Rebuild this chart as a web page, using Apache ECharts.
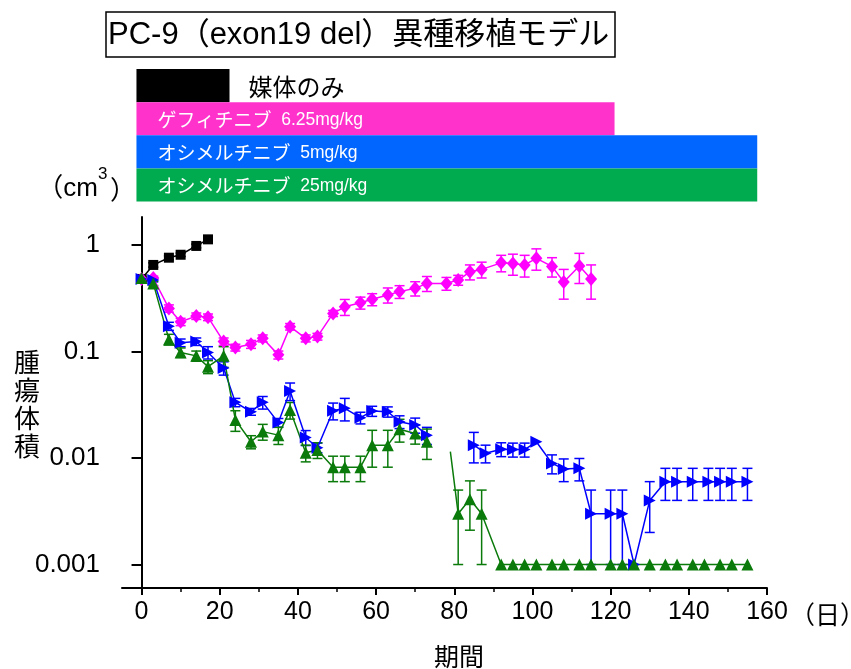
<!DOCTYPE html>
<html><head><meta charset="utf-8">
<script src="https://cdn.jsdelivr.net/npm/echarts@6/dist/echarts.min.js"></script>
<style>html,body{margin:0;padding:0;background:#fff}#c{width:851px;height:669px}</style>
</head><body><div id="c"></div>
<script>
// ---- data ----
const vehicleDays = [0,3,7,10,14,17];
const vehicleVals = [0.48,0.65,0.76,0.81,0.98,1.13];
const vehicleErr  = [0.02,0.03,0.03,0.03,0.04,0.05];

const gefDays = [0,3,7,10,14,17,21,24,28,31,35,38,42,45,49,52,56,59,63,66,70,73,78,81,84,87,92,95,98,101,105,108,112,115];
const gefVals = [0.48,0.49,0.254,0.19,0.215,0.21,0.124,0.109,0.117,0.133,0.093,0.171,0.133,0.138,0.228,0.263,0.287,0.309,0.34,0.365,0.392,0.436,0.436,0.469,0.56,0.59,0.68,0.67,0.65,0.75,0.63,0.45,0.635,0.48];
const gefErr  = [0.02,0.02,0.02,0.015,0.015,0.015,0.01,0.008,0.01,0.01,0.008,0.012,0.01,0.01,0.015,0.045,0.037,0.04,0.055,0.05,0.06,0.07,0.06,0.05,0.09,0.1,0.12,0.15,0.15,0.17,0.13,0.14,0.2,0.17];

const osi5Days = [0,3,7,10,14,17,21,24,28,31,35,38,42,45,49,52,56,59,63,66,70,73,null,85,88,92,95,98,101,105,108,112,115,120,123,126,130,134,137,141,145,148,151,155];
const osi5Vals = [0.48,0.47,0.173,0.121,0.124,0.098,0.07,0.0333,0.0272,0.0333,0.0215,0.0426,0.0156,0.0125,0.0278,0.0293,0.0239,0.0276,0.0272,0.0219,0.0204,0.0164,null,0.0132,0.0111,0.0121,0.012,0.012,0.0142,0.0089,0.0079,0.008,0.003,0.003,0.003,0.001,0.004,0.006,0.006,0.006,0.006,0.006,0.006,0.006];
const osi5Err  = [0.02,0.02,0.015,0.01,0.01,0.013,0.01,0.003,0.002,0.0045,0.002,0.008,0.0025,0.0013,0.005,0.007,0.003,0.003,0.003,0.003,0.0033,0.003,null,0.0042,0.0021,0.0018,0.0018,0.0018,0,0.0018,0.0019,0.0019,0.002,0.002,0.002,0,0.002,0.002,0.002,0.002,0.002,0.002,0.002,0.002];

const osi25Days = [0,3,7,10,14,17,21,24,28,31,35,38,42,45,49,52,56,59,63,66,70,73,null,79,81,84,87,92,95,98,101,105,108,112,115,120,123,126,130,134,137,141,144,148,151,155];
const osi25Vals = [0.49,0.436,0.13,0.098,0.091,0.072,0.091,0.0228,0.0142,0.0177,0.0164,0.0282,0.0112,0.0119,0.0082,0.0082,0.0082,0.0132,0.0132,0.0186,0.017,0.0142,null,0.0115,0.003,0.0041,0.003,0.001,0.001,0.001,0.001,0.001,0.001,0.001,0.001,0.001,0.001,0.001,0.001,0.001,0.001,0.001,0.001,0.001,0.001,0.001];
const osi25Err  = [0.02,0.02,0.015,0.01,0.01,0.01,0.02,0.005,0.002,0.003,0.003,0.005,0.002,0.002,0.0022,0.0022,0.0022,0.005,0.005,0.0045,0.0035,0.0045,null,0,0.002,0.002,0.002,0,0,0,0,0,0,0,0,0,0,0,0,0,0,0,0,0,0,0];
const osi25UnmarkedDay = 79;

const treatNames = ['媒体のみ','ゲフィチニブ','オシメルチニブ','オシメルチニブ'];
const treatDoses = ['','6.25mg/kg','5mg/kg','25mg/kg'];
const treatStart = [-1.3,-1.3,-1.3,-1.3];
const treatEnd   = [22.5,121,157.5,157.5];

const yTickValues = [0.001,0.01,0.1,1];
const yTickLabels = ['0.001','0.01','0.1','1'];
const xTickValues = [0,20,40,60,80,100,120,140,160];
const xMinorTickValues = [10,30,50,70,90,110,130,150];

const titleText = 'PC-9（exon19 del）異種移植モデル';
const xName = '期間';
const xUnit = '（日）';
const yName = '腫瘍体積';

// ---- build ----
const FONT = "'Liberation Sans','Noto Sans CJK JP',sans-serif";
const C = {veh:'#000000', gef:'#ff00ff', o5:'#0000ff', o25:'#0a7a0a'};
const treatColors = ['#000000','#ff33cc','#0066ff','#00aa4f'];

function pts(days, vals, unmarked){
  return days.map((d,i)=>{
    if (d == null) return ['-','-'];
    if (unmarked != null && d === unmarked) return {value:[d, vals[i]], symbol:'none'};
    return [d, vals[i]];
  });
}
function errs(days, vals, err){
  const out = [];
  days.forEach((d,i)=>{ if (d != null && err[i]) out.push([d, vals[i], err[i]]); });
  return out;
}
function errRender(color){
  return function(params, api){
    const x = api.value(0), v = api.value(1), e = api.value(2);
    const lo = Math.max(v - e, 1e-6), hi = v + e;
    const pl = api.coord([x, lo]), ph = api.coord([x, hi]);
    const hw = 5;
    const st = {stroke: color, lineWidth: 1.5, fill: null};
    return {type:'group', children:[
      {type:'line', shape:{x1:pl[0],y1:pl[1],x2:ph[0],y2:ph[1]}, style:st},
      {type:'line', shape:{x1:ph[0]-hw,y1:ph[1],x2:ph[0]+hw,y2:ph[1]}, style:st},
      {type:'line', shape:{x1:pl[0]-hw,y1:pl[1],x2:pl[0]+hw,y2:pl[1]}, style:st}
    ]};
  };
}
function errSeries(days, vals, err, color){
  return {type:'custom', xAxisIndex:0, yAxisIndex:0, data: errs(days, vals, err),
    encode:{x:0, y:1}, renderItem: errRender(color), clip:true, z:1, silent:true};
}
function lineSeries(name, days, vals, color, symbol, size, rot, unmarked){
  return {type:'line', name, xAxisIndex:0, yAxisIndex:0, data: pts(days, vals, unmarked),
    symbol, symbolSize:size, symbolRotate:rot||0, showAllSymbol:true, connectNulls:false,
    lineStyle:{color, width:1.5}, itemStyle:{color, opacity:1}, z:3};
}

const treatData = treatNames.map((n,i)=>[treatStart[i], i, treatEnd[i]]);

const option = {
  animation:false,
  backgroundColor:'#fff',
  grid:[
    {left:122, right:84, top:217, bottom:81},
    {left:122, right:84, top:69, height:132.5}
  ],
  xAxis:[
    {type:'value', gridIndex:0, min:-5, max:160,
     axisLine:{show:true, onZero:false, lineStyle:{color:'#000', width:2}},
     axisTick:{show:true, customValues:xTickValues, length:7, lineStyle:{color:'#000', width:2}},
     axisLabel:{customValues:xTickValues, color:'#000', fontSize:25, fontFamily:FONT, margin:12},
     splitLine:{show:false}},
    {type:'value', gridIndex:0, min:-5, max:160, position:'bottom',
     axisLine:{show:false},
     axisTick:{show:true, customValues:xMinorTickValues, length:4, lineStyle:{color:'#000', width:1.5}},
     axisLabel:{show:false}, splitLine:{show:false}},
    {type:'value', gridIndex:1, min:-5, max:160, show:false}
  ],
  yAxis:[
    {type:'log', logBase:10, gridIndex:0, min:0.000602, max:1.832,
     axisLine:{show:true, lineStyle:{color:'#000', width:2}},
     axisTick:{show:true, customValues:yTickValues, length:10, lineStyle:{color:'#000', width:2}},
     axisLabel:{customValues:yTickValues, color:'#000', fontSize:26, fontFamily:FONT, margin:22,
       formatter:(v)=>{ const k = yTickValues.findIndex(t=>Math.abs(Math.log10(t)-Math.log10(v))<1e-6); return k>=0?yTickLabels[k]:''; }},
     splitLine:{show:false}, minorTick:{show:false}},
    {type:'category', gridIndex:1, data:treatNames.map((n,i)=>String(i)), inverse:true, show:false}
  ],
  series:[
    {type:'custom', xAxisIndex:2, yAxisIndex:1, data:treatData, encode:{x:[0,2], y:1}, silent:true,
     renderItem:(params, api)=>{
       const i = params.dataIndex;
       const s = api.coord([api.value(0), api.value(1)]);
       const e = api.coord([api.value(2), api.value(1)]);
       const h = api.size([0,1])[1];
       const kids = [{type:'rect', shape:{x:s[0], y:s[1]-h/2, width:e[0]-s[0], height:h}, style:{fill:treatColors[i]}}];
       if (i === 0) {
         kids.push({type:'text', x:e[0]+19, y:s[1]+1, style:{text:treatNames[i], fill:'#000', font:"24px 'Noto Sans CJK JP'", verticalAlign:'middle', align:'left'}});
       } else {
         kids.push({type:'text', x:s[0]+21, y:s[1]+1, style:{
           text:'{a|'+treatNames[i]+'}{b|  '+treatDoses[i]+'}', verticalAlign:'middle', align:'left', fill:'#fff',
           rich:{a:{fontSize:19, fontFamily:'Noto Sans CJK JP', fill:'#fff', color:'#fff'},
                 b:{fontSize:17.5, fontFamily:'Liberation Sans', fill:'#fff', color:'#fff'}}}});
       }
       return {type:'group', children:kids};
     }},
    errSeries(vehicleDays, vehicleVals, vehicleErr, C.veh),
    errSeries(gefDays, gefVals, gefErr, C.gef),
    errSeries(osi5Days, osi5Vals, osi5Err, C.o5),
    errSeries(osi25Days, osi25Vals, osi25Err, C.o25),
    lineSeries('媒体のみ', vehicleDays, vehicleVals, C.veh, 'rect', 10),
    lineSeries('ゲフィチニブ', gefDays, gefVals, C.gef, 'diamond', [12,14]),
    lineSeries('オシメルチニブ 5mg/kg', osi5Days, osi5Vals, C.o5, 'triangle', 12, -90),
    lineSeries('オシメルチニブ 25mg/kg', osi25Days, osi25Vals, C.o25, 'triangle', 12, 0, osi25UnmarkedDay)
  ],
  graphic:[
    {type:'rect', x:106, y:12, shape:{width:509, height:45}, style:{fill:'none', stroke:'#000', lineWidth:1.5}},
    {type:'text', x:108, y:35, style:{text:titleText, font:"31px 'Liberation Sans','Noto Sans CJK JP'", fill:'#000', align:'left', verticalAlign:'middle'}},
    {type:'text', x:98, y:189, style:{text:'（cm', font:"26px 'Liberation Sans','Noto Sans CJK JP'", fill:'#000', align:'right', verticalAlign:'middle'}},
    {type:'text', x:98, y:174, style:{text:'3', font:"17px 'Liberation Sans'", fill:'#000', align:'left', verticalAlign:'middle'}},
    {type:'text', x:110, y:189, style:{text:'）', font:"26px 'Noto Sans CJK JP'", fill:'#000', align:'left', verticalAlign:'middle'}},
    {type:'text', x:27, y:348, style:{text:yName.split('').join('\n'), font:"26px 'Noto Sans CJK JP'", lineHeight:28, fill:'#000', align:'center', verticalAlign:'top'}},
    {type:'text', x:459, y:656, style:{text:xName, font:"25px 'Noto Sans CJK JP'", fill:'#000', align:'center', verticalAlign:'middle'}},
    {type:'text', x:790, y:614, style:{text:xUnit, font:"25px 'Noto Sans CJK JP'", fill:'#000', align:'left', verticalAlign:'middle'}}
  ]
};
const chart = echarts.init(document.getElementById('c'), null, {renderer:'canvas'});
chart.setOption(option);
</script></body></html>
